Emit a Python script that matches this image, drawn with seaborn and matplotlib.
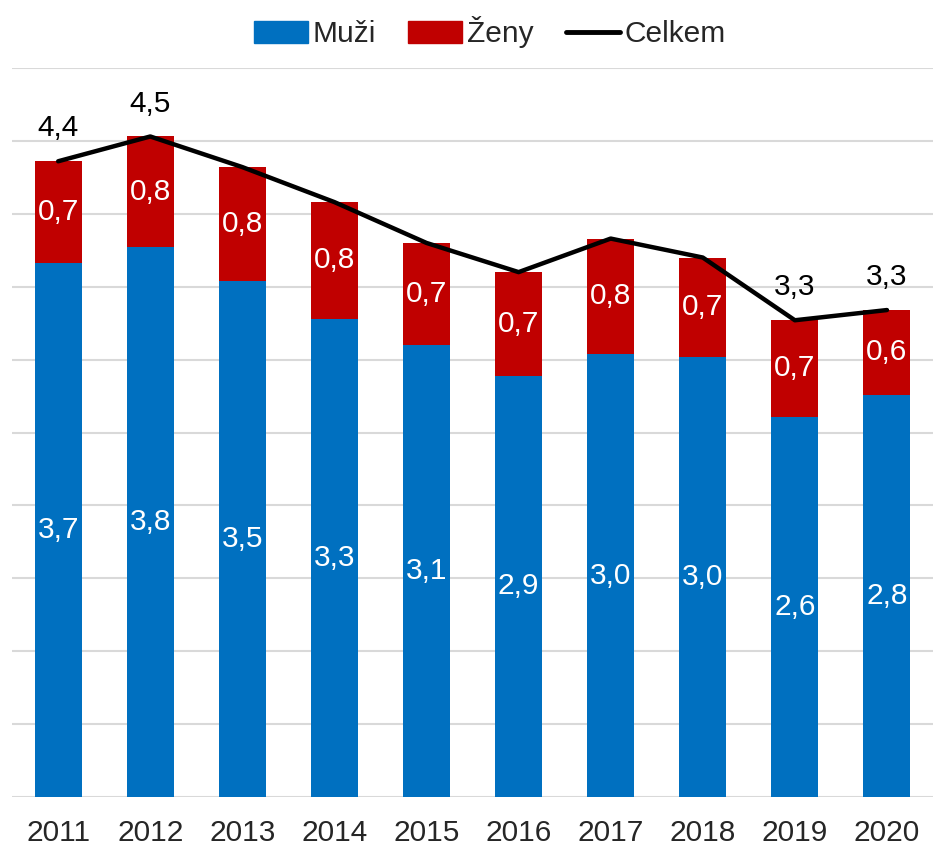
import numpy as np
import pandas as pd
import matplotlib.pyplot as plt
import seaborn as sns
from matplotlib.patches import Patch
from matplotlib.lines import Line2D

years = ['2011', '2012', '2013', '2014', '2015', '2016', '2017', '2018', '2019', '2020']
muzi = [3.66, 3.77, 3.54, 3.28, 3.10, 2.89, 3.04, 3.02, 2.61, 2.76]
zeny = [0.70, 0.76, 0.78, 0.80, 0.70, 0.71, 0.79, 0.68, 0.66, 0.58]
celkem_labeled = ['2011', '2012', '2019', '2020']

df = pd.DataFrame({'Rok': years, 'Muzi': muzi, 'Zeny': zeny})
df['Celkem'] = df['Muzi'] + df['Zeny']

sns.set_style('white')
plt.rcParams['font.family'] = ['Liberation Sans', 'DejaVu Sans']

blue = '#0070C0'
red = '#C00000'
fs = 21.5

fig = plt.figure(figsize=(9.33, 8.49), dpi=100)
ax = fig.add_axes([0.013, 0.061, 0.987, 0.859])

# stacked bars: total in red, men on top in blue
sns.barplot(data=df, x='Rok', y='Celkem', color=red, width=0.51, saturation=1, linewidth=0, ax=ax)
sns.barplot(data=df, x='Rok', y='Muzi', color=blue, width=0.51, saturation=1, linewidth=0, ax=ax)
sns.lineplot(x=np.arange(len(years)), y=df['Celkem'], color='black', linewidth=3.2, ax=ax)

fmt = lambda v: f'{v:.1f}'.replace('.', ',')
for i, row in df.iterrows():
    ax.text(i, row['Muzi'] / 2, fmt(row['Muzi']), ha='center', va='center', color='white', fontsize=fs)
    ax.text(i, row['Muzi'] + row['Zeny'] / 2, fmt(row['Zeny']), ha='center', va='center', color='white', fontsize=fs)
    if row['Rok'] in celkem_labeled:
        ax.text(i, row['Celkem'] + 0.13, fmt(row['Celkem']), ha='center', va='bottom', color='black', fontsize=fs)

ax.set_ylim(0, 5)
ax.set_xlim(-0.5, len(years) - 0.5)
ax.set_yticks(np.arange(0, 5.01, 0.5))
ax.yaxis.grid(True, color='#d9d9d9', linewidth=1.5)
ax.set_axisbelow(True)
ax.tick_params(axis='y', left=False, labelleft=False)
ax.tick_params(axis='x', bottom=False, labelsize=fs, pad=12)
ax.set_xlabel('')
ax.set_ylabel('')
sns.despine(ax=ax, left=True, bottom=True)

handles = [Patch(color=blue, label='Muži'), Patch(color=red, label='Ženy'),
           Line2D([0], [0], color='black', linewidth=3.5, label='Celkem')]
fig.legend(handles=handles, loc='center', bbox_to_anchor=(0.525, 0.962), ncol=3, frameon=False,
           fontsize=fs, handlelength=1.8, handleheight=0.75, handletextpad=0.15, columnspacing=1.1)

fig.savefig('out.png', dpi=100)
